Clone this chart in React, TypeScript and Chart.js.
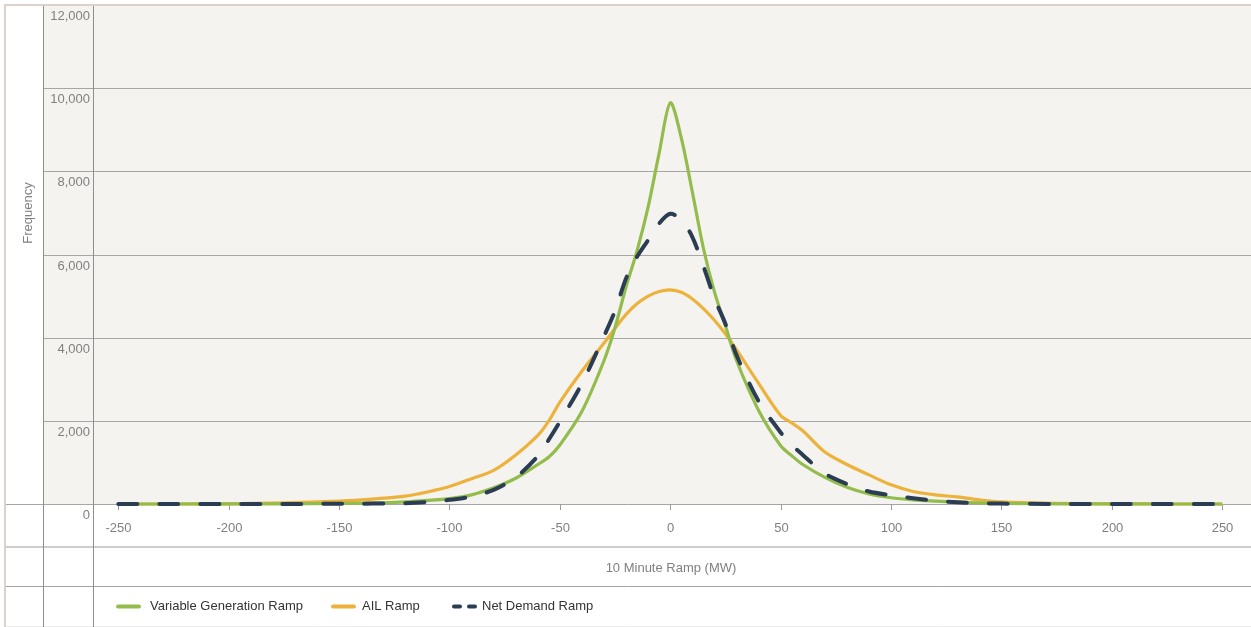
import React, { useEffect, useRef } from "react";
import { Chart, registerables } from "chart.js";

Chart.register(...registerables);

// ---- data ----
const rampMW = [
  -250, -225, -200, -175, -150, -140, -130, -120, -110, -100,
  -90, -80, -70, -60, -55, -50, -40, -30, -25, -20,
  -15, -10, -5, 0, 5, 10, 15, 20, 25, 30,
  40, 50, 55, 60, 70, 80, 90, 100, 110, 120,
  130, 140, 150, 175, 200, 225, 250,
];

const variableGenerationRamp = [
  0, 0, 2, 5, 15, 20, 30, 50, 85, 130,
  220, 390, 620, 950, 1130, 1420, 2230, 3450, 4250, 5230,
  6100, 7150, 8450, 9650, 8800, 7500, 6150, 5100, 4280, 3450,
  2250, 1400, 1160, 950, 640, 400, 240, 150, 100, 70,
  45, 25, 15, 5, 2, 0, 0,
];

const ailRamp = [
  0, 0, 5, 25, 70, 100, 140, 190, 290, 420,
  610, 810, 1180, 1650, 2000, 2450, 3200, 3870, 4230, 4560,
  4820, 5000, 5110, 5150, 5090, 4930, 4700, 4420, 4090, 3710,
  2900, 2130, 1950, 1760, 1250, 950, 700, 460, 300, 220,
  170, 100, 50, 15, 5, 0, 0,
];

const netDemandRamp = [
  0, 0, 0, 0, 5, 8, 12, 20, 50, 100,
  180, 340, 640, 1150, 1550, 1980, 2900, 4040, 4650, 5430,
  5950, 6350, 6750, 6980, 6830, 6420, 5720, 4950, 4330, 3580,
  2470, 1720, 1420, 1180, 730, 480, 300, 210, 140, 80,
  40, 20, 10, 0, 0, 0, 0,
];

const xTickValues = [-250, -200, -150, -100, -50, 0, 50, 100, 150, 200, 250];
const yTickValues = [0, 2000, 4000, 6000, 8000, 10000, 12000];

const seriesNames = ["Variable Generation Ramp", "AIL Ramp", "Net Demand Ramp"];
const xAxisTitle = "10 Minute Ramp (MW)";
const yAxisTitle = "Frequency";

const GREEN = "#93bc4d";
const ORANGE = "#edb23b";
const NAVY = "#2b3d52";
const FONT = '"Liberation Sans", Arial, Helvetica, sans-serif';

const decor = {
  id: "decor",
  beforeDraw(chart: any) {
    const { ctx, chartArea, scales } = chart;
    const { top, bottom } = chartArea;
    const W = chart.width;
    const H = chart.height;
    const x = scales.x;
    const y = scales.y;
    ctx.save();
    ctx.fillStyle = "#ffffff";
    ctx.fillRect(0, 0, W, H);
    // plot background incl. y label column
    ctx.fillStyle = "#f4f3ef";
    ctx.fillRect(44, top, W - 44, bottom - top);

    // horizontal grid lines
    ctx.lineWidth = 1;
    ctx.strokeStyle = "#a6a6a6";
    ctx.font = `13px ${FONT}`;
    ctx.fillStyle = "#808080";
    ctx.textAlign = "right";
    ctx.textBaseline = "middle";
    for (const v of yTickValues) {
      const py = Math.round(y.getPixelForValue(v)) + 0.5;
      ctx.beginPath();
      ctx.moveTo(v === 0 ? 6 : 43, py);
      ctx.lineTo(W, py);
      ctx.stroke();
      ctx.fillText(v.toLocaleString("en-US"), 90, py + 10.5);
    }

    // x ticks and labels
    ctx.textAlign = "center";
    ctx.strokeStyle = "#9a9a9a";
    for (const v of xTickValues) {
      const px = Math.round(x.getPixelForValue(v)) + 0.5;
      ctx.beginPath();
      ctx.moveTo(px, bottom);
      ctx.lineTo(px, bottom + 6);
      ctx.stroke();
      ctx.fillText(String(v), px, 528);
    }

    // lower table lines
    ctx.strokeStyle = "#cdcdcd";
    ctx.lineWidth = 2;
    ctx.beginPath();
    ctx.moveTo(6, 547);
    ctx.lineTo(W, 547);
    ctx.stroke();
    ctx.strokeStyle = "#a3a3a3";
    ctx.lineWidth = 1;
    ctx.beginPath();
    ctx.moveTo(6, 586.5);
    ctx.lineTo(W, 586.5);
    ctx.stroke();
    ctx.strokeStyle = "#ececec";
    ctx.beginPath();
    ctx.moveTo(6, 626.5);
    ctx.lineTo(W, 626.5);
    ctx.stroke();

    // vertical column lines
    ctx.strokeStyle = "#8e8e8e";
    ctx.beginPath();
    ctx.moveTo(43.5, top);
    ctx.lineTo(43.5, H);
    ctx.moveTo(93.5, top);
    ctx.lineTo(93.5, H);
    ctx.stroke();

    // outer beige border
    ctx.fillStyle = "#dbd3cb";
    ctx.fillRect(4, 4, W - 4, 2);
    ctx.fillRect(4, 4, 2, H - 4);

    // axis titles
    ctx.fillStyle = "#808080";
    ctx.textAlign = "center";
    ctx.textBaseline = "middle";
    ctx.fillText(xAxisTitle, 671, 568);
    ctx.save();
    ctx.translate(28, 213);
    ctx.rotate(-Math.PI / 2);
    ctx.fillText(yAxisTitle, 0, 0);
    ctx.restore();

    // legend
    const ly = 606.5;
    const items = [
      { name: seriesNames[0], color: GREEN, x0: 118, text: 150, dash: [] as number[] },
      { name: seriesNames[1], color: ORANGE, x0: 333, text: 362, dash: [] as number[] },
      { name: seriesNames[2], color: NAVY, x0: 454, text: 482, dash: [6, 9] },
    ];
    for (const it of items) {
      ctx.save();
      ctx.strokeStyle = it.color;
      ctx.lineWidth = 4;
      ctx.lineCap = "round";
      ctx.setLineDash(it.dash);
      ctx.beginPath();
      ctx.moveTo(it.x0, ly);
      ctx.lineTo(it.x0 + (it.dash.length ? 22 : 21), ly);
      ctx.stroke();
      ctx.restore();
      ctx.fillStyle = "#333333";
      ctx.textAlign = "left";
      ctx.fillText(it.name, it.text, ly);
    }
    ctx.restore();
  },
};

export default function App() {
  const ref = useRef<HTMLCanvasElement>(null);
  useEffect(() => {
    const canvas = ref.current;
    if (!canvas) return;
    const chart = new Chart(canvas, {
      type: "line",
      data: {
        datasets: [
          {
            label: seriesNames[0],
            data: rampMW.map((v, i) => ({ x: v, y: variableGenerationRamp[i] })),
            borderColor: GREEN,
            borderWidth: 3.2,
            order: 1,
          },
          {
            label: seriesNames[1],
            data: rampMW.map((v, i) => ({ x: v, y: ailRamp[i] })),
            borderColor: ORANGE,
            borderWidth: 3.2,
            order: 2,
          },
          {
            label: seriesNames[2],
            data: rampMW.map((v, i) => ({ x: v, y: netDemandRamp[i] })),
            borderColor: NAVY,
            borderWidth: 4,
            borderDash: [19, 22],
            borderCapStyle: "round",
            order: 0,
          },
        ] as any,
      },
      options: {
        animation: false,
        responsive: false,
        devicePixelRatio: 1,
        layout: { padding: { left: 94, top: 5, right: 0, bottom: 123 } },
        datasets: { line: { clip: false as any, tension: 0.3, fill: false } } as any,
        elements: { point: { radius: 0, hoverRadius: 0 } },
        plugins: { legend: { display: false }, tooltip: { enabled: false } },
        scales: {
          x: { type: "linear", min: -261, max: 263, display: false },
          y: { type: "linear", min: 0, max: 12000, display: false },
        },
      },
      plugins: [decor],
    });
    return () => chart.destroy();
  }, []);
  return (
    <div style={{ position: "fixed", left: 0, top: 0, width: 1251, height: 627 }}>
      <canvas ref={ref} width={1251} height={627} style={{ display: "block" }} />
    </div>
  );
}
